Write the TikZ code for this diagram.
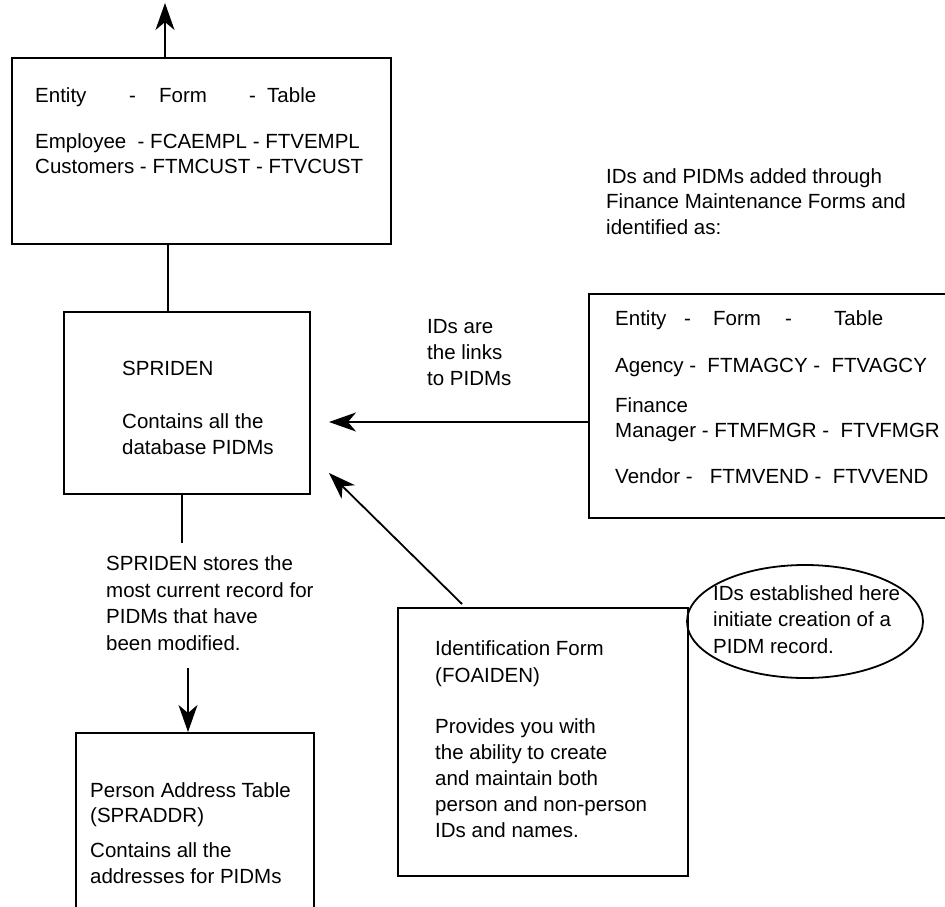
\documentclass[tikz,border=0pt]{standalone}
\usepackage{fontspec}
\setmainfont{Liberation Sans}
\usetikzlibrary{arrows.meta,shapes.geometric}
\begin{document}
\begin{tikzpicture}[x=1pt,y=-1pt,
  box/.style={draw,line width=1.8pt,rectangle,anchor=north west,inner sep=0pt},
  txt/.style={anchor=base west,inner sep=0pt,align=left,font=\fontsize{20.5}{26}\selectfont},
  conn/.style={line width=1.8pt},
  arr/.style={line width=1.8pt,-{Stealth[length=27pt,width=19pt,inset=8pt]}}]
\useasboundingbox (0,0) rectangle (945,907);
\clip (0,0) rectangle (945,907);
% boxes
\node[box,minimum width=379pt,minimum height=186pt] (topbox) at (11,57) {};
\node[box,minimum width=246pt,minimum height=182pt] (spriden) at (63,311) {};
\node[box,minimum width=238pt,minimum height=230pt] (addrbox) at (75,732) {};
\node[box,minimum width=380pt,minimum height=224pt] (rightbox) at (588,293) {};
\node[box,minimum width=290pt,minimum height=268pt] (idbox) at (397,607) {};
\node[draw,line width=1.8pt,ellipse,inner sep=0pt,minimum width=236pt,minimum height=113pt] (ell) at (805,621.5) {};
% texts (anchored at the baseline of the last line)
\node[txt] (toptext) at (35,173) {\makebox[94pt][l]{Entity}\makebox[30pt][l]{-}\makebox[90pt][l]{Form}\makebox[18pt][l]{-}Table\\[20pt]
Employee \ - FCAEMPL - FTVEMPL\\[-1pt]
Customers - FTMCUST - FTVCUST};
\node[txt] (sprtext) at (122,454) {SPRIDEN\\[27pt]Contains all the\\database PIDMs};
\node[txt] (stores) at (106,650) {SPRIDEN stores the\\[0.5pt]most current record for\\[0.5pt]PIDMs that have\\[0.5pt]been modified.};
\node[txt] (addrtext) at (90,883) {Person Address Table\\[-1pt](SPRADDR)\\[9pt]Contains all the\\addresses for PIDMs};
\node[txt] (idsare) at (427,385) {IDs are\\the links\\to PIDMs};
\node[txt] (added) at (606,234) {IDs and PIDMs added through\\[-0.5pt]Finance Maintenance Forms and\\[-0.5pt]identified as:};
\node[txt] (righttext) at (615,483) {\makebox[69pt][l]{Entity}\makebox[29pt][l]{-}\makebox[72pt][l]{Form}\makebox[49pt][l]{-}Table\\[21pt]
Agency - \ FTMAGCY - \ FTVAGCY\\[14pt]
Finance\\[-1pt]
Manager - FTMFMGR - \ FTVFMGR\\[20pt]
Vendor - \ \ FTMVEND - \ FTVVEND};
\node[txt] (idtext) at (435,837) {Identification Form\\[1pt](FOAIDEN)\\[25pt]Provides you with\\the ability to create\\and maintain both\\person and non-person\\IDs and names.};
\node[txt] (elltext) at (713,653) {IDs established here\\[0.5pt]initiate creation of a\\[0.5pt]PIDM record.};
% connectors
\coordinate (uptip) at (165,3);
\draw[arr] (topbox.north -| uptip) -- (uptip);
\coordinate (c1) at (168,0);
\draw[conn] (topbox.south -| c1) -- (spriden.north -| c1);
\coordinate (c2) at (182,543);
\draw[conn] (spriden.south -| c2) -- (c2);
\coordinate (c3) at (188,668);
\draw[arr] (c3) -- (addrbox.north -| c3);
\coordinate (htip) at (329,422);
\draw[arr] (rightbox.west |- htip) -- (htip);
\coordinate (dtail) at (462,604);
\coordinate (dtip) at (329,473);
\draw[arr] (dtail) -- (dtip);
\end{tikzpicture}
\end{document}
